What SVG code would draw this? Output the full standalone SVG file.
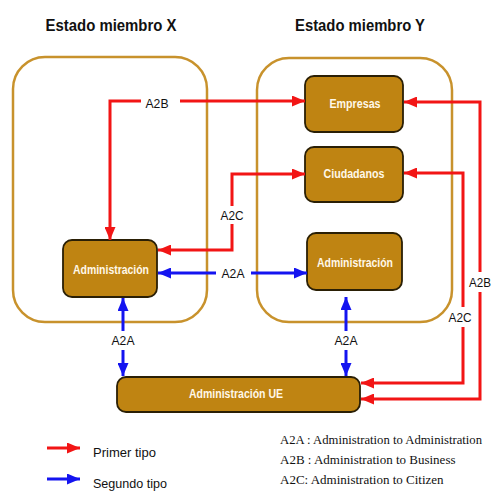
<svg xmlns="http://www.w3.org/2000/svg" width="493" height="493" viewBox="0 0 493 493">
<defs>
<marker id="ar" markerUnits="userSpaceOnUse" markerWidth="13" markerHeight="11" refX="13" refY="5.5" orient="auto-start-reverse"><path d="M0,0 L13,5.5 L0,11 z" fill="#f21515"/></marker>
<marker id="ab" markerUnits="userSpaceOnUse" markerWidth="13" markerHeight="11" refX="13" refY="5.5" orient="auto-start-reverse"><path d="M0,0 L13,5.5 L0,11 z" fill="#1414f0"/></marker>
<style>
.state{fill:none;stroke:#c8922c;stroke-width:2.5}
.node{fill:#bf8412;stroke:#2a1f05;stroke-width:1.8}
.nt{font-family:"Liberation Sans",Arial,sans-serif;font-weight:bold;font-size:12px;fill:#fff8e8;text-anchor:middle}
.title{font-family:"Liberation Sans",Arial,sans-serif;font-weight:bold;font-size:17px;fill:#111;text-anchor:middle}
.lab{font-family:"Liberation Sans",Arial,sans-serif;font-size:13px;fill:#111;text-anchor:middle}
.red{fill:none;stroke:#f21515;stroke-width:3;marker-end:url(#ar)}
.blue{fill:none;stroke:#1414f0;stroke-width:3;marker-end:url(#ab)}
.leg{font-family:"Liberation Serif","Times New Roman",serif;font-size:13px;fill:#111}
.legs{font-family:"Liberation Sans",Arial,sans-serif;font-size:13px;fill:#111}
</style>
</defs>
<rect width="493" height="493" fill="#fff"/>
<text class="title" x="111" y="31" textLength="131" lengthAdjust="spacingAndGlyphs">Estado miembro X</text>
<text class="title" x="360" y="31" textLength="130" lengthAdjust="spacingAndGlyphs">Estado miembro Y</text>
<rect id="stateX" class="state" x="13" y="57" width="194" height="265" rx="32"/>
<rect id="stateY" class="state" x="257" y="58" width="195" height="264" rx="32"/>
<g id="empresas"><rect class="node" x="305" y="76" width="98" height="56" rx="9"/><text class="nt" x="355" y="108" textLength="51" lengthAdjust="spacingAndGlyphs">Empresas</text></g>
<g id="ciudadanos"><rect class="node" x="305" y="147" width="98" height="55" rx="9"/><text class="nt" x="354" y="178" textLength="61" lengthAdjust="spacingAndGlyphs">Ciudadanos</text></g>
<g id="adminY"><rect class="node" x="307" y="233" width="95" height="57" rx="9"/><text class="nt" x="355" y="267" textLength="76" lengthAdjust="spacingAndGlyphs">Administración</text></g>
<g id="adminX"><rect class="node" x="63" y="240" width="94" height="57" rx="9"/><text class="nt" x="111" y="274" textLength="76" lengthAdjust="spacingAndGlyphs">Administración</text></g>
<g id="adminUE"><rect class="node" x="117" y="377" width="243" height="35" rx="9"/><text class="nt" x="236" y="398" textLength="94" lengthAdjust="spacingAndGlyphs">Administración UE</text></g>
<g id="connectors">
<path class="red" d="M141,101 H110 V240"/>
<path class="red" d="M180,101 H305"/>
<path class="red" d="M232,206 V174 H305"/>
<path class="red" d="M232,224 V250 H158"/>
<path class="red" d="M480,272 V102 H404"/>
<path class="red" d="M480,292 V399 H361"/>
<path class="red" d="M463,307 V173 H404"/>
<path class="red" d="M463,327 V383 H361"/>
<path class="blue" d="M216,273 H158"/>
<path class="blue" d="M251,273 H307"/>
<path class="blue" d="M123,331 V298"/>
<path class="blue" d="M123,350 V376"/>
<path class="blue" d="M346,331 V297"/>
<path class="blue" d="M346,350 V376"/>
<text class="lab" x="157" y="108" textLength="23" lengthAdjust="spacingAndGlyphs">A2B</text>
<text class="lab" x="232" y="220" textLength="23" lengthAdjust="spacingAndGlyphs">A2C</text>
<text class="lab" x="233" y="278" textLength="23" lengthAdjust="spacingAndGlyphs">A2A</text>
<text class="lab" x="123" y="345" textLength="23" lengthAdjust="spacingAndGlyphs">A2A</text>
<text class="lab" x="346" y="345" textLength="23" lengthAdjust="spacingAndGlyphs">A2A</text>
<text class="lab" x="480" y="287" textLength="22" lengthAdjust="spacingAndGlyphs">A2B</text>
<text class="lab" x="460" y="322" textLength="23" lengthAdjust="spacingAndGlyphs">A2C</text>
</g>
<g id="legend">
<path class="red" d="M47,448 H80"/>
<path class="blue" d="M47,479 H80"/>
<text class="legs" x="93" y="457" textLength="63" lengthAdjust="spacingAndGlyphs">Primer tipo</text>
<text class="legs" x="93" y="488" textLength="74" lengthAdjust="spacingAndGlyphs">Segundo tipo</text>
<text class="leg" x="280" y="444" textLength="202" lengthAdjust="spacingAndGlyphs">A2A : Administration to Administration</text>
<text class="leg" x="280" y="464">A2B : Administration to Business</text>
<text class="leg" x="280" y="484">A2C:  Administration to Citizen</text>
</g>
</svg>
